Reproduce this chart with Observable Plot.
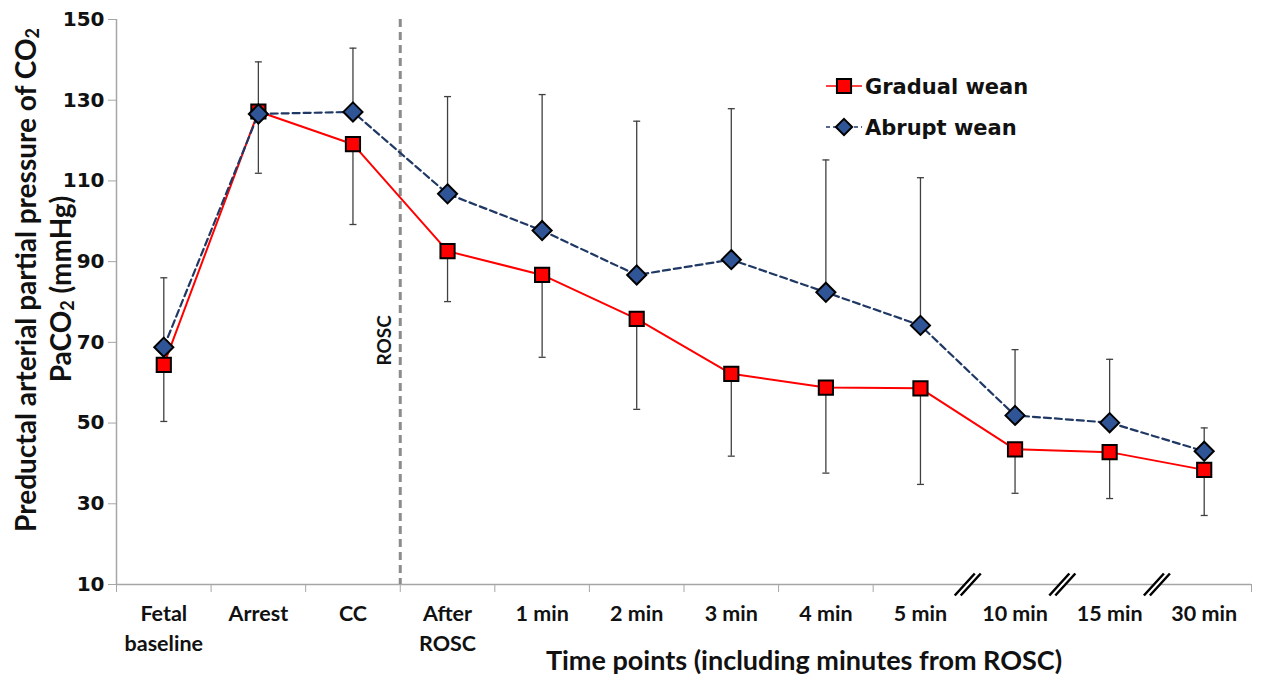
<!DOCTYPE html>
<html><head><meta charset="utf-8">
<script src="https://cdn.jsdelivr.net/npm/d3@7"></script>
<script src="https://cdn.jsdelivr.net/npm/@observablehq/plot@0.6"></script>
<style>
body{margin:0;background:#fff}
#chart svg{display:block}
g[aria-label="y-axis tick label"] text{font-weight:bold}
g[aria-label="x-axis tick label"] text{font-weight:bold}
</style>
</head><body><div id="chart"></div>
<script>
// ---- data ----
const categories = ["Fetal\nbaseline","Arrest","CC","After\nROSC","1 min","2 min","3 min","4 min","5 min","10 min","15 min","30 min"];
const seriesNames = ["Gradual wean","Abrupt wean"];
const gradualMean = [64.4, 127.2, 119.1, 92.6, 86.7, 75.8, 62.2, 58.8, 58.6, 43.5, 42.8, 38.4];
const gradualSD   = [14.0, 15.3, 19.9, 12.5, 20.4, 22.4, 20.4, 21.2, 23.8, 10.9, 11.5, 11.3];
const abruptMean  = [68.8, 126.6, 127.1, 106.8, 97.7, 86.7, 90.5, 82.4, 74.2, 51.9, 50.1, 43.0];
const abruptSD    = [17.2, 12.9, 15.8, 24.1, 33.7, 38.1, 37.4, 32.8, 36.6, 16.3, 15.7, 5.8];
const yTicks = [10, 30, 50, 70, 90, 110, 130, 150];
const breakAfter = ["5 min", "10 min", "15 min"];
const roscAfter = "CC";
const roscLabel = "ROSC";
const xTitle = "Time points (including minutes from ROSC)";

// ---- derived tables ----
const idx = categories.map((c, i) => i);
const gradual = idx.map(i => ({i, mean: gradualMean[i], sd: gradualSD[i]}));
const abrupt = idx.map(i => ({i, mean: abruptMean[i], sd: abruptSD[i]}));
const bounds = d3.range(-0.5, categories.length, 1);
const breakPos = breakAfter.map(c => categories.indexOf(c) + 0.5);
const tickBounds = bounds.filter(b => !breakPos.includes(b));
const roscPos = categories.indexOf(roscAfter) + 0.5;
const yMin = yTicks[0], yMax = yTicks[yTicks.length - 1];
const breaks = breakPos.map(b => ({b, y: yMin}));

const red = "#ff0000", blue = "#2f5597", navy = "#1f3864", axisGray = "#a6a6a6", barGray = "#404040";

const capSymbol = {draw(ctx, size) { const w = Math.sqrt(size / Math.PI); ctx.moveTo(-w, 0); ctx.lineTo(w, 0); }};
const breakBg = {draw(ctx) { ctx.moveTo(-10, 11); ctx.lineTo(-4, 11); ctx.lineTo(10, -11); ctx.lineTo(4, -11); ctx.closePath(); }};
const breakLines = {draw(ctx) { ctx.moveTo(-13, 11); ctx.lineTo(7, -11); ctx.moveTo(-7, 11); ctx.lineTo(13, -11); }};

const plot = Plot.plot({
  width: 1264, height: 679,
  marginLeft: 116, marginRight: 13, marginTop: 19, marginBottom: 95,
  x: {domain: [-0.5, categories.length - 0.5]},
  y: {domain: [yMin, yMax]},
  style: {fontFamily: "Lato, sans-serif", background: "#fff", overflow: "visible"},
  marks: [
    Plot.ruleX([-0.5], {stroke: axisGray, strokeWidth: 1.5}),
    Plot.ruleY([yMin], {stroke: axisGray, strokeWidth: 1.5}),
    Plot.axisY({ticks: yTicks, tickSize: 8, tickPadding: 4, stroke: axisGray, fill: "#111",
      fontFamily: "DejaVu Sans", fontSize: 20, label: null}),
    Plot.axisX({ticks: tickBounds, tickSize: 8, stroke: axisGray, tickFormat: () => "", label: null}),
    Plot.axisX({ticks: idx, tickSize: 0, tickPadding: 16, tickFormat: i => categories[i], fill: "#111",
      fontSize: 21.5, lineHeight: 1.36, label: null}),
    Plot.ruleX([roscPos], {stroke: "#8c8c8c", strokeWidth: 3, strokeDasharray: "8,5"}),
    Plot.text([roscLabel], {x: roscPos, y: 70.5, rotate: -90, dx: -15, fontSize: 19, fill: "#111", fontWeight: "bold"}),
    // error bars
    Plot.ruleX(abrupt, {x: "i", y1: "mean", y2: d => d.mean + d.sd, stroke: barGray, strokeWidth: 1.3}),
    Plot.dot(abrupt, {x: "i", y: d => d.mean + d.sd, symbol: capSymbol, r: 3.5, stroke: barGray, strokeWidth: 1.3, fill: "none"}),
    Plot.ruleX(gradual, {x: "i", y1: "mean", y2: d => d.mean - d.sd, stroke: barGray, strokeWidth: 1.3}),
    Plot.dot(gradual, {x: "i", y: d => d.mean - d.sd, symbol: capSymbol, r: 3.5, stroke: barGray, strokeWidth: 1.3, fill: "none"}),
    // lines
    Plot.line(gradual, {x: "i", y: "mean", stroke: red, strokeWidth: 2}),
    Plot.line(abrupt, {x: "i", y: "mean", stroke: navy, strokeWidth: 2.2, strokeDasharray: "7,4"}),
    Plot.dot(gradual, {x: "i", y: "mean", symbol: "square", r: 8, fill: red, stroke: "#000", strokeWidth: 2}),
    Plot.dot(abrupt, {x: "i", y: "mean", symbol: "diamond2", r: 8.6, fill: blue, stroke: "#000", strokeWidth: 2}),
    // axis breaks
    Plot.dot(breaks, {x: "b", y: "y", symbol: breakBg, r: 5, fill: "#fff", stroke: "none"}),
    Plot.dot(breaks, {x: "b", y: "y", symbol: breakLines, r: 5, fill: "none", stroke: "#000", strokeWidth: 2.5})
  ]
});
document.getElementById("chart").appendChild(plot);

const svg = d3.select(plot);
// y-axis title (two lines, with subscripts)
const yt = svg.append("g").attr("font-family", "Lato, sans-serif").attr("font-weight", "bold").attr("font-size", 28).attr("fill", "#111");
const t1 = yt.append("text").attr("transform", "translate(25,280) rotate(-90)").attr("text-anchor", "middle").attr("dominant-baseline", "central");
t1.append("tspan").text("Preductal arterial partial pressure of CO");
t1.append("tspan").attr("font-size", 18).attr("dy", 7).text("2");
const t2 = yt.append("text").attr("transform", "translate(60,289) rotate(-90)").attr("text-anchor", "middle").attr("dominant-baseline", "central");
t2.append("tspan").text("PaCO");
t2.append("tspan").attr("font-size", 18).attr("dy", 7).text("2");
t2.append("tspan").attr("dy", -7).text(" (mmHg)");
// x-axis title
svg.append("text").attr("x", 804).attr("y", 670).attr("text-anchor", "middle")
  .attr("font-family", "Lato, sans-serif").attr("font-weight", "bold").attr("font-size", 27).attr("fill", "#111").text(xTitle);
// legend
const legend = [
  {name: seriesNames[0], stroke: red, dash: null, symbol: d3.symbolSquare, size: 200, fill: red, y: 86},
  {name: seriesNames[1], stroke: navy, dash: "4,3", symbol: d3.symbolDiamond2, size: 170, fill: blue, y: 127}
];
const lg = svg.append("g");
legend.forEach(l => {
  const g = lg.append("g").attr("transform", `translate(844,${l.y})`);
  g.append("line").attr("x1", -18).attr("x2", 18).attr("stroke", l.stroke).attr("stroke-width", 1.5).attr("stroke-dasharray", l.dash);
  g.append("path").attr("d", d3.symbol(l.symbol, l.size)()).attr("fill", l.fill).attr("stroke", "#000").attr("stroke-width", 2);
  g.append("text").attr("x", 21).attr("dy", "0.36em").attr("text-anchor", "start").attr("font-family", "DejaVu Sans").attr("font-weight", "bold")
    .attr("font-size", 21).attr("fill", "#111").text(l.name);
});
</script>
</body></html>
